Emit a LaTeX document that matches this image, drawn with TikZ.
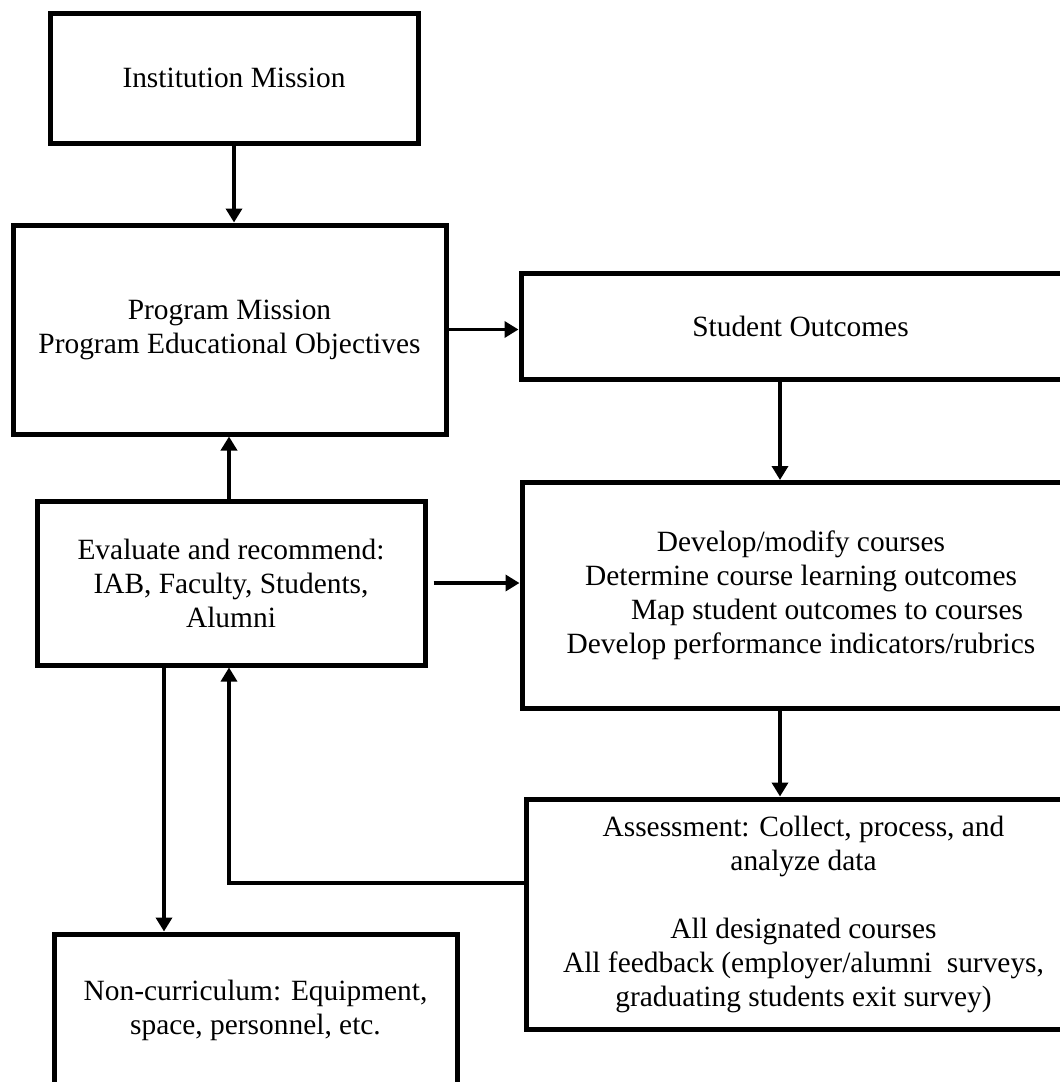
\documentclass[tikz,border=0pt]{standalone}
\usepackage{fontspec}
\setmainfont{Liberation Serif}
\usetikzlibrary{arrows.meta}
\begin{document}
\begin{tikzpicture}[x=0.5pt,y=-0.5pt,
  box/.style={draw, line width=2.5pt, inner sep=0pt, align=center,
    font=\fontsize{14.7pt}{17pt}\selectfont},
  arr/.style={line width=1.9pt, -{Triangle[width=8pt,length=7pt]}},
  thinarr/.style={line width=1.6pt, -{Triangle[width=8pt,length=7pt]}}]
\useasboundingbox (0,0) rectangle (1060,1082);
\clip (0,0) rectangle (1060,1082);
\fill[white] (0,0) rectangle (1060,1082);

\node[box, minimum width=184pt, minimum height=65pt] (inst) at (234,78) {Institution Mission};
\node[box, minimum width=216.5pt, minimum height=104.5pt] (prog) at (229.5,329.5)
  {Program Mission\\Program Educational Objectives};
\node[box, minimum width=279.5pt, minimum height=53pt] (stud) at (800.5,326) {Student Outcomes};
\node[box, minimum width=194pt, minimum height=82pt] (eval) at (231,583)
  {Evaluate and recommend:\\IAB, Faculty, Students,\\Alumni};
\node[box, minimum width=279pt, minimum height=113pt] (dev) at (801,595.5)
  {Develop/modify courses\\Determine course learning outcomes\\\hspace*{26pt}Map student outcomes to courses\\Develop performance indicators/rubrics};
\node[box, minimum width=277pt, minimum height=115pt] (assess) at (803.5,914)
  {Assessment: Collect, process, and\\analyze data\\[17pt]All designated courses\\All feedback (employer/alumni~ surveys,\\graduating students exit survey)};
\node[box, minimum width=201.5pt, minimum height=76pt] (noncur) at (255.5,1010)
  {Non-curriculum: Equipment,\\space, personnel, etc.};

\coordinate (cx1) at (780,0);
\coordinate (cx2) at (229,0);
\coordinate (cfb) at (229,883);
\coordinate (cx4) at (164,0);

\draw[arr] (inst.south) -- (inst.south |- prog.north);
\draw[arr] (prog.east) -- (prog.east -| stud.west);
\draw[arr] (stud.south -| cx1) -- (dev.north -| cx1);
\draw[arr] (eval.north -| cx2) -- (prog.south -| cx2);
\draw[arr, shorten <=3pt] (eval.east) -- (eval.east -| dev.west);
\draw[arr] (dev.south -| cx1) -- (assess.north -| cx1);
\draw[thinarr] (assess.west |- cfb) -- (cfb) -- (cfb |- eval.south);
\draw[arr] (eval.south -| cx4) -- (noncur.north -| cx4);
\end{tikzpicture}
\end{document}
